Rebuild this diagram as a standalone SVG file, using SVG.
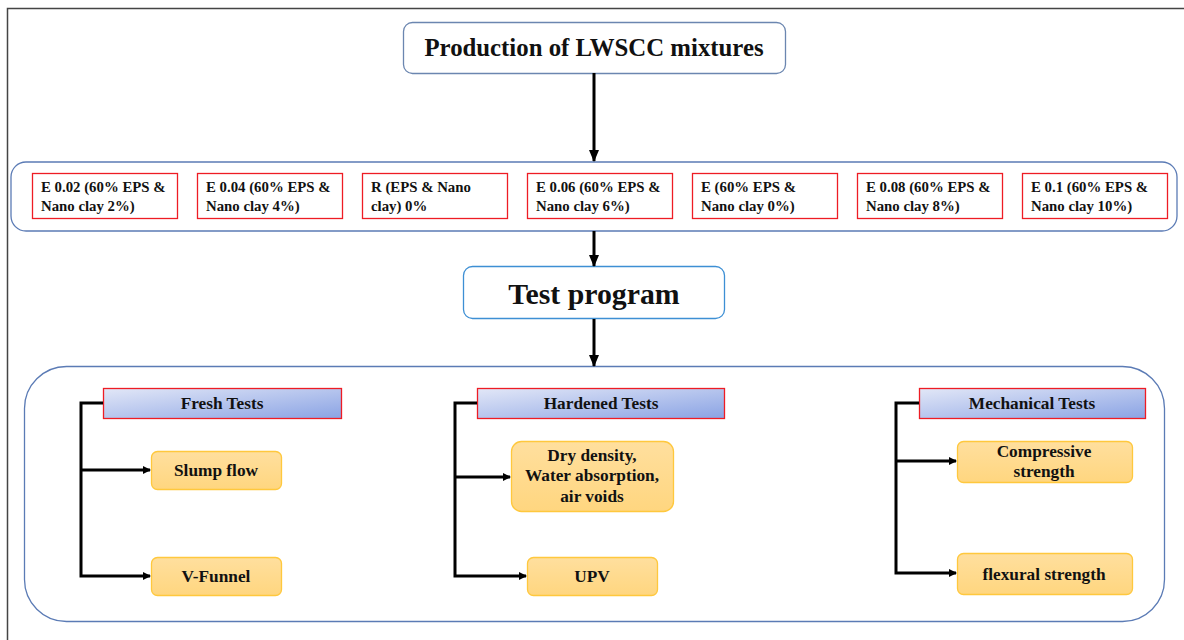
<svg xmlns="http://www.w3.org/2000/svg" width="1184" height="640" viewBox="0 0 1184 640">
<defs>
<linearGradient id="hdr" x1="0" y1="0" x2="1" y2="1">
<stop offset="0" stop-color="#e2e7f7"/>
<stop offset="1" stop-color="#8aa3e4"/>
</linearGradient>
<linearGradient id="org" x1="0" y1="0" x2="0" y2="1">
<stop offset="0" stop-color="#ffdf9e"/>
<stop offset="1" stop-color="#ffd67f"/>
</linearGradient>
<marker id="ah" markerWidth="8" markerHeight="8" refX="7" refY="4" orient="auto" markerUnits="userSpaceOnUse">
<path d="M0,0 L8,4 L0,8 Z" fill="#000"/>
</marker>
<marker id="ahs" markerWidth="12" markerHeight="10" refX="11" refY="5" orient="auto" markerUnits="userSpaceOnUse">
<path d="M0,0 L12,5 L0,10 Z" fill="#000"/>
</marker>
</defs>
<style>
.t{font-family:"Liberation Serif","Times New Roman",serif;font-weight:bold;fill:#111}
.mix{fill:#fff;stroke:#ee1c24;stroke-width:1.3}
.mt{font-size:14.8px}
.hdr{fill:url(#hdr);stroke:#ee1c24;stroke-width:1.3}
.ht{font-size:17.3px}
.ob{fill:url(#org);stroke:#ffc83d;stroke-width:1.3}
.ot{font-size:17.3px}
.ln{fill:none;stroke:#000;stroke-width:3}
.pn{fill:none;stroke:#5b7bb5;stroke-width:1.3}
</style>
<rect width="1184" height="640" fill="#fff"/>
<path d="M7.5,640 V8.5 H1184" fill="none" stroke="#444" stroke-width="1.5"/>

<g id="production">
<rect x="403.5" y="22.5" width="382" height="51" rx="9" fill="#fff" stroke="#6b86b0" stroke-width="1.3"/>
<text class="t" x="594" y="56" font-size="24.8" text-anchor="middle">Production of LWSCC mixtures</text>
</g>

<g id="mixtures">
<rect class="pn" x="11" y="162" width="1166" height="69" rx="15"/>
<g id="m1"><rect class="mix" x="32.5" y="173.5" width="145" height="45"/><text class="t mt" x="41" y="192">E 0.02 (60% EPS &amp;</text><text class="t mt" x="41" y="211">Nano clay 2%)</text></g>
<g id="m2"><rect class="mix" x="197.5" y="173.5" width="145" height="45"/><text class="t mt" x="206" y="192">E 0.04 (60% EPS &amp;</text><text class="t mt" x="206" y="211">Nano clay 4%)</text></g>
<g id="m3"><rect class="mix" x="362.5" y="173.5" width="145" height="45"/><text class="t mt" x="371" y="192">R (EPS &amp; Nano</text><text class="t mt" x="371" y="211">clay) 0%</text></g>
<g id="m4"><rect class="mix" x="527.5" y="173.5" width="145" height="45"/><text class="t mt" x="536" y="192">E 0.06 (60% EPS &amp;</text><text class="t mt" x="536" y="211">Nano clay 6%)</text></g>
<g id="m5"><rect class="mix" x="692.5" y="173.5" width="145" height="45"/><text class="t mt" x="701" y="192">E (60% EPS &amp;</text><text class="t mt" x="701" y="211">Nano clay 0%)</text></g>
<g id="m6"><rect class="mix" x="857.5" y="173.5" width="145" height="45"/><text class="t mt" x="866" y="192">E 0.08 (60% EPS &amp;</text><text class="t mt" x="866" y="211">Nano clay 8%)</text></g>
<g id="m7"><rect class="mix" x="1022.5" y="173.5" width="145" height="45"/><text class="t mt" x="1031" y="192">E 0.1 (60% EPS &amp;</text><text class="t mt" x="1031" y="211">Nano clay 10%)</text></g>
</g>

<g id="testprogram">
<rect x="463.5" y="266.5" width="261" height="52" rx="9" fill="#fff" stroke="#3d8fd4" stroke-width="1.3"/>
<text class="t" x="594" y="304" font-size="29.8" text-anchor="middle">Test program</text>
</g>

<g id="tests-panel">
<rect class="pn" x="24.5" y="366.5" width="1140" height="255" rx="42"/>
</g>

<g id="fresh">
<rect class="hdr" x="103.5" y="388.5" width="238" height="30"/>
<text class="t ht" x="222" y="409" text-anchor="middle">Fresh Tests</text>
</g>
<g id="slump"><rect class="ob" x="151.5" y="451.5" width="130" height="38" rx="6"/><text class="t ot" x="216" y="476" text-anchor="middle">Slump flow</text></g>
<g id="vfunnel"><rect class="ob" x="151.5" y="557.5" width="130" height="38" rx="6"/><text class="t ot" x="216" y="582" text-anchor="middle">V-Funnel</text></g>

<g id="hardened">
<rect class="hdr" x="477.5" y="388.5" width="247" height="30"/>
<text class="t ht" x="601" y="409" text-anchor="middle">Hardened Tests</text>
</g>
<g id="dry"><rect class="ob" x="511.5" y="441.5" width="162" height="70" rx="10"/>
<text class="t ot" x="592" y="461" text-anchor="middle">Dry density,</text>
<text class="t ot" x="592" y="481" text-anchor="middle">Water absorption,</text>
<text class="t ot" x="592" y="502" text-anchor="middle">air voids</text></g>
<g id="upv"><rect class="ob" x="527.5" y="557.5" width="130" height="38" rx="6"/><text class="t ot" x="592" y="582" text-anchor="middle">UPV</text></g>

<g id="mechanical">
<rect class="hdr" x="919.5" y="388.5" width="226" height="30"/>
<text class="t ht" x="1032" y="409" text-anchor="middle">Mechanical Tests</text>
</g>
<g id="compressive"><rect class="ob" x="957.5" y="441.5" width="175" height="41" rx="6"/>
<text class="t ot" x="1044" y="457" text-anchor="middle">Compressive</text>
<text class="t ot" x="1044" y="477" text-anchor="middle">strength</text></g>
<g id="flexural"><rect class="ob" x="957.5" y="553.5" width="175" height="41" rx="6"/><text class="t ot" x="1044" y="580" text-anchor="middle">flexural strength</text></g>

<g id="connectors">
<line class="ln" x1="594" y1="73" x2="594" y2="161" marker-end="url(#ahs)"/>
<line class="ln" x1="594" y1="231" x2="594" y2="266" marker-end="url(#ahs)"/>
<line class="ln" x1="594" y1="319" x2="594" y2="366" marker-end="url(#ahs)"/>
<path class="ln" d="M103,403 H81 V576 H150" marker-end="url(#ah)"/>
<path class="ln" d="M81,470 H150" marker-end="url(#ah)"/>
<path class="ln" d="M477,403 H455 V576 H526" marker-end="url(#ah)"/>
<path class="ln" d="M455,477 H510" marker-end="url(#ah)"/>
<path class="ln" d="M919,403 H896 V573 H956" marker-end="url(#ah)"/>
<path class="ln" d="M896,461 H956" marker-end="url(#ah)"/>
</g>
</svg>
